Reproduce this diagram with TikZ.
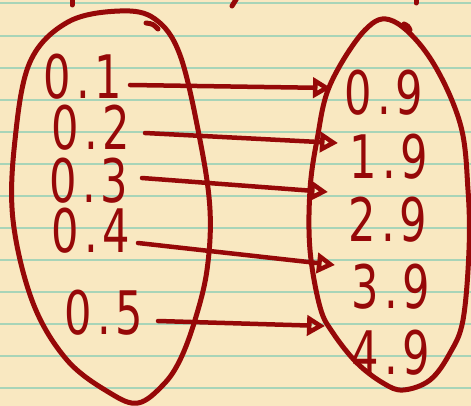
\documentclass[tikz,border=0pt]{standalone}
\usepackage{fontspec}
\newfontfamily\hand[FakeStretch=0.72, LetterSpace=8]{DejaVu Sans}
\usetikzlibrary{arrows.meta}
\definecolor{paper}{RGB}{249,232,193}
\definecolor{rule}{RGB}{168,212,184}
\definecolor{ink}{RGB}{150,8,8}
\tikzset{
  num/.style={inner sep=0pt, text=ink, font=\hand\fontsize{60}{60}\selectfont},
  pen/.style={draw=ink, line width=5pt, line cap=round, line join=round},
  maparrow/.style={pen, line width=4.5pt, -{Triangle[open, length=18pt, width=20pt, line width=4.5pt]}}
}
\begin{document}
\begin{tikzpicture}[x=1pt, y=-1pt]
\useasboundingbox (0,0) rectangle (471,406);
\fill[paper] (0,0) rectangle (471,406);
\foreach \k in {0,...,12}{
  \draw[rule, line width=2pt] (0,{3.5+32.05*\k}) -- (471,{3.5+32.05*\k});
}
% cut-off strokes at the top edge
\draw[pen] (72,-2) -- (72,5);
\draw[pen] (237,-2) -- (232,6);
\draw[pen] (416,-2) -- (416,3);
% left ellipse
\draw[pen] plot[smooth cycle, tension=0.6] coordinates {
  (120,11) (155,19) (180,55) (200,140) (210,210) (207,270) (195,320)
  (180,360) (163,385) (138,403) (110,393) (67,360) (33,303) (13,220)
  (15,140) (30,62) (68,22)};
\draw[pen] (146,23) .. controls (153,24) .. (158,29);
% right ellipse
\draw[pen] plot[smooth cycle, tension=0.6] coordinates {
  (393,21) (430,58) (460,123) (468,190) (469,250) (463,320) (450,353)
  (430,380) (403,390) (383,383) (357,363) (333,333) (320,307) (310,250)
  (310,190) (317,140) (330,85) (365,30)};
\draw[pen] (404,24) .. controls (408,26) .. (410,30);
% domain
\node[num] (l1) at (83,77) {0.1};
\node[num] (l2) at (91,128) {0.2};
\node[num] (l3) at (89,181) {0.3};
\node[num] (l4) at (91,231) {0.4};
\node[num] (l5) at (104,313) {0.5};
% range
\node[num] (r1) at (384,93) {0.9};
\node[num] (r2) at (389,157) {1.9};
\node[num] (r3) at (388,220) {2.9};
\node[num] (r4) at (391,287) {3.9};
\node[num] (r5) at (391,353) {4.9};
% arrow ends
\coordinate (s1) at (130,85);  \coordinate (e1) at (331,88);
\coordinate (s2) at (145,133); \coordinate (e2) at (338,143);
\coordinate (s3) at (142,178); \coordinate (e3) at (328,192);
\coordinate (s4) at (138,243); \coordinate (e4) at (335,265);
\coordinate (s5) at (158,321); \coordinate (e5) at (325,326);
\foreach \i in {1,...,5}{ \draw[maparrow] (s\i) -- (e\i); }
\end{tikzpicture}
\end{document}
